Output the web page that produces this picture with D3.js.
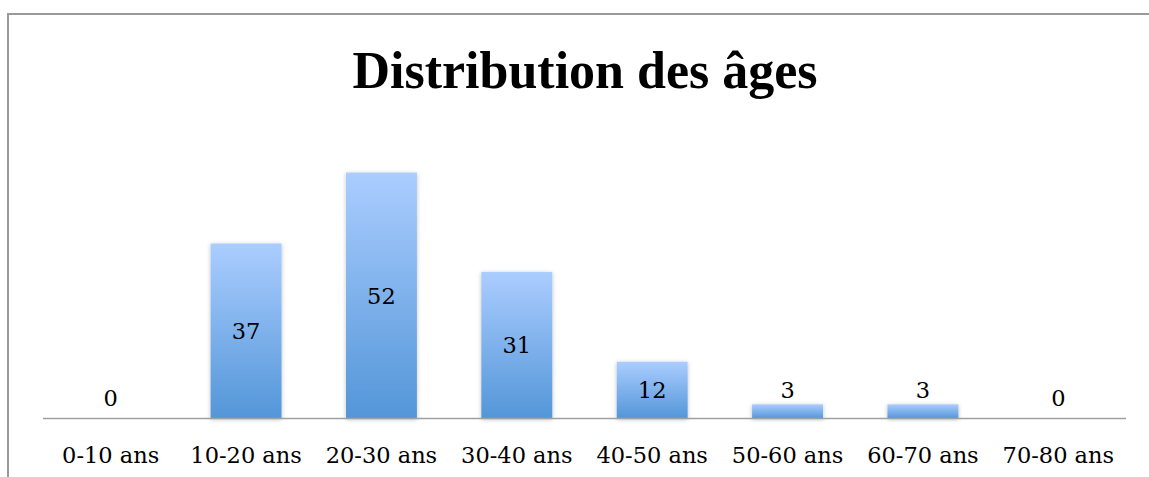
<!DOCTYPE html>
<html>
<head>
<meta charset="utf-8">
<script src="https://cdn.jsdelivr.net/npm/d3@7"></script>
<style>
  body { margin: 0; background: #fff; }
  #root { width: 1149px; height: 477px; }
  .tick-label, .value-label { font-family: "DejaVu Serif", serif; font-size: 22.5px; fill: #000; }
  .title { font-family: "Liberation Serif", serif; font-weight: bold; font-size: 52px; fill: #000; }
</style>
</head>
<body>
<div id="root"></div>
<script>
var categories = ["0-10 ans", "10-20 ans", "20-30 ans", "30-40 ans", "40-50 ans", "50-60 ans", "60-70 ans", "70-80 ans"];
var counts = [0, 37, 52, 31, 12, 3, 3, 0];
var yDomain = [0, 60];

var width = 1149, height = 477;
var margin = {left: 43, right: 23, bottom: 58};

var svg = d3.select("#root").append("svg")
    .attr("width", width)
    .attr("height", height);

var defs = svg.append("defs");
var grad = defs.append("linearGradient")
    .attr("id", "barGrad")
    .attr("x1", 0).attr("y1", 0).attr("x2", 0).attr("y2", 1);
grad.append("stop").attr("offset", "0%").attr("stop-color", "#abcdff");
grad.append("stop").attr("offset", "100%").attr("stop-color", "#5396d8");

var shadow = defs.append("filter").attr("id", "shadow")
    .attr("x", "-20%").attr("y", "-20%").attr("width", "140%").attr("height", "140%");
shadow.append("feDropShadow")
    .attr("dx", 0).attr("dy", 1).attr("stdDeviation", 2)
    .attr("flood-color", "#000").attr("flood-opacity", 0.25);

// frame (only top and left edges show in the crop)
svg.append("path")
    .attr("d", "M8," + height + "V14H" + width)
    .attr("fill", "none")
    .attr("stroke", "#9a9a9a")
    .attr("stroke-width", 2);

var x = d3.scaleBand()
    .domain(categories)
    .range([margin.left, width - margin.right])
    .paddingInner(0.476)
    .paddingOuter(0.238);

var y = d3.scaleLinear()
    .domain(yDomain)
    .range([height - margin.bottom - 0.5, height - margin.bottom - 0.5 - 4.73 * 60]);

var rows = categories.map(function(c, i){ return {cat: c, val: counts[i]}; });

svg.selectAll(".bar")
    .data(rows.filter(function(d){ return d.val > 0; }))
    .enter()
    .append("rect")
    .attr("class", "bar")
    .attr("x", function(d){ return x(d.cat); })
    .attr("width", x.bandwidth())
    .attr("y", function(d){ return y(d.val); })
    .attr("height", function(d){ return y(0) - y(d.val); })
    .attr("fill", "url(#barGrad)")
    .attr("filter", "url(#shadow)");

// axis line
svg.append("line")
    .attr("x1", margin.left).attr("x2", width - margin.right)
    .attr("y1", y(0)).attr("y2", y(0))
    .attr("stroke", "#a0a0a0")
    .attr("stroke-width", 1.5);

// value labels: centred in the bar when it's tall enough, above it otherwise
svg.selectAll(".value-label")
    .data(rows)
    .enter()
    .append("text")
    .attr("class", "value-label")
    .attr("text-anchor", "middle")
    .attr("x", function(d){ return x(d.cat) + x.bandwidth() / 2; })
    .attr("y", function(d){
        if (d.val >= 10) return (y(d.val) + y(0)) / 2 + 8;
        if (d.val === 0) return y(0) - 13;
        return y(d.val) - 6;
    })
    .text(function(d){ return d.val; });

svg.selectAll(".tick-label")
    .data(categories)
    .enter()
    .append("text")
    .attr("class", "tick-label")
    .attr("text-anchor", "middle")
    .attr("x", function(d){ return x(d) + x.bandwidth() / 2; })
    .attr("y", y(0) + 44)
    .text(function(d){ return d; });

svg.append("text")
    .attr("class", "title")
    .attr("text-anchor", "middle")
    .attr("x", 585)
    .attr("y", 88)
    .text("Distribution des âges");
</script>
</body>
</html>
